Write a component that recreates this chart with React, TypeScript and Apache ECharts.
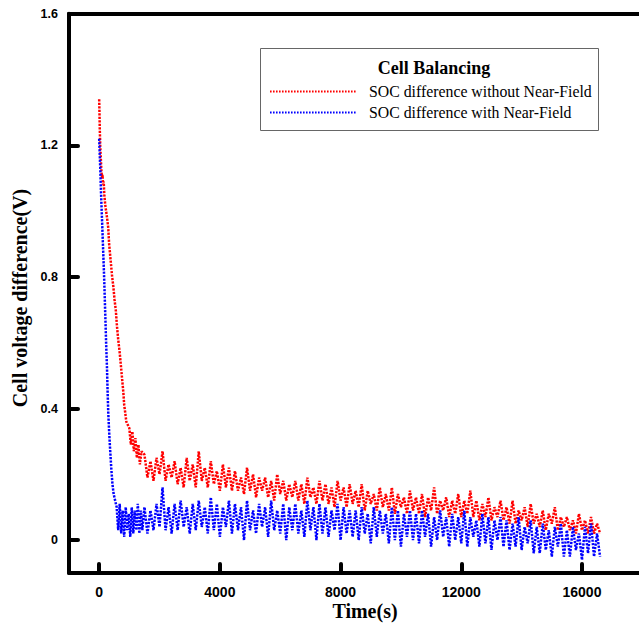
import React, { useEffect, useRef } from "react";
import * as echarts from "echarts";

// ---- data (time in seconds, voltage difference in V) ----
const RED_EARLY_T = [0, 10, 20, 35, 55, 75, 95, 110, 130, 150, 170, 200, 230, 260, 300, 330, 360, 400, 430, 470, 510, 550, 590, 630, 680, 720, 760, 800, 830, 860, 900, 950, 1000, 1050, 1100, 1150, 1200, 1250, 1300, 1350, 1400];
const RED_EARLY_V = [1.34, 1.30, 1.25, 1.20, 1.16, 1.12, 1.10, 1.11, 1.08, 1.09, 1.05, 1.02, 1.00, 0.98, 0.95, 0.90, 0.87, 0.83, 0.80, 0.77, 0.73, 0.70, 0.65, 0.61, 0.57, 0.53, 0.49, 0.45, 0.41, 0.39, 0.36, 0.35, 0.34, 0.29, 0.33, 0.27, 0.31, 0.25, 0.29, 0.23, 0.27];

const BLUE_EARLY_T = [0, 20, 40, 60, 80, 100, 120, 140, 160, 180, 200, 220, 240, 260, 280, 300, 330, 360, 400, 440, 480, 530, 580, 630, 680, 730, 780, 830, 880, 930, 980, 1030, 1080, 1130, 1180, 1230, 1280, 1330, 1380, 1430];
const BLUE_EARLY_V = [1.22, 1.17, 1.12, 1.06, 1.01, 0.96, 0.91, 0.86, 0.81, 0.75, 0.69, 0.63, 0.57, 0.52, 0.45, 0.39, 0.33, 0.28, 0.22, 0.17, 0.14, 0.12, 0.10, 0.03, 0.11, 0.02, 0.09, 0.01, 0.10, 0.03, 0.08, 0.01, 0.10, 0.02, 0.09, 0.03, 0.11, 0.02, 0.09, 0.03];

// noisy part: samples every NOISE_STEP s starting at NOISE_START s
const NOISE_START = 1500;
const NOISE_STEP = 100;
const RED_NOISE = [
  0.26, 0.19, 0.24, 0.18, 0.25, 0.20, 0.27, 0.18, 0.23, 0.19,
  0.24, 0.17, 0.22, 0.16, 0.25, 0.18, 0.23, 0.16, 0.27, 0.18,
  0.22, 0.16, 0.24, 0.17, 0.21, 0.15, 0.23, 0.16, 0.22, 0.15,
  0.21, 0.15, 0.19, 0.14, 0.22, 0.15, 0.20, 0.13, 0.19, 0.15,
  0.19, 0.13, 0.18, 0.12, 0.20, 0.14, 0.18, 0.12, 0.17, 0.13,
  0.18, 0.12, 0.17, 0.11, 0.19, 0.13, 0.16, 0.11, 0.18, 0.12,
  0.17, 0.11, 0.16, 0.10, 0.18, 0.12, 0.16, 0.10, 0.17, 0.11,
  0.15, 0.10, 0.17, 0.09, 0.15, 0.11, 0.14, 0.09, 0.16, 0.10,
  0.14, 0.09, 0.16, 0.08, 0.14, 0.10, 0.13, 0.08, 0.15, 0.09,
  0.13, 0.08, 0.14, 0.07, 0.13, 0.09, 0.16, 0.08, 0.12, 0.09,
  0.13, 0.07, 0.12, 0.08, 0.14, 0.07, 0.12, 0.08, 0.15, 0.07,
  0.12, 0.06, 0.11, 0.07, 0.13, 0.06, 0.10, 0.07, 0.12, 0.06,
  0.10, 0.05, 0.12, 0.05, 0.09, 0.06, 0.10, 0.04, 0.11, 0.05,
  0.08, 0.04, 0.09, 0.03, 0.08, 0.05, 0.10, 0.03, 0.07, 0.04,
  0.07, 0.03, 0.06, 0.02, 0.08, 0.03, 0.06, 0.02, 0.07, 0.02,
  0.05, 0.02,
];
const BLUE_NOISE = [
  0.10, 0.02, 0.09, 0.03, 0.11, 0.04, 0.16, 0.03, 0.10, 0.02,
  0.11, 0.03, 0.12, 0.04, 0.10, 0.02, 0.11, 0.03, 0.12, 0.04,
  0.10, 0.02, 0.13, 0.03, 0.11, 0.01, 0.10, 0.04, 0.12, 0.02,
  0.11, 0.03, 0.10, 0.00, 0.12, 0.03, 0.09, 0.02, 0.11, 0.04,
  0.10, 0.01, 0.12, 0.03, 0.09, 0.02, 0.11, 0.00, 0.10, 0.03,
  0.11, 0.02, 0.09, 0.01, 0.12, 0.03, 0.10, 0.00, 0.11, 0.02,
  0.10, 0.01, 0.09, 0.03, 0.11, 0.00, 0.10, 0.02, 0.09, 0.01,
  0.09, 0.00, 0.10, 0.02, 0.08, -0.01, 0.10, 0.01, 0.09, 0.02,
  0.08, -0.01, 0.10, 0.00, 0.09, -0.02, 0.08, 0.01, 0.09, 0.00,
  0.08, -0.01, 0.09, 0.01, 0.08, -0.02, 0.07, 0.00, 0.09, 0.01,
  0.07, -0.02, 0.08, 0.00, 0.07, -0.01, 0.09, -0.02, 0.07, 0.01,
  0.06, -0.02, 0.08, -0.01, 0.07, -0.03, 0.06, 0.00, 0.07, -0.02,
  0.06, -0.03, 0.05, -0.02, 0.07, -0.03, 0.04, -0.01, 0.06, -0.04,
  0.04, -0.04, 0.05, -0.03, 0.03, -0.05, 0.04, -0.02, 0.05, -0.05,
  0.03, -0.05, 0.04, -0.03, 0.02, -0.06, 0.04, -0.04, 0.05, -0.05,
  0.02, -0.05,
];

const X_TICKS = [0, 4000, 8000, 12000, 16000];
const Y_TICKS = [0, 0.4, 0.8, 1.2, 1.6];

const LEGEND_TITLE = "Cell Balancing";
const RED_NAME = "SOC difference without Near-Field";
const BLUE_NAME = "SOC difference with Near-Field";
const X_TITLE = "Time(s)";
const Y_TITLE = "Cell voltage difference(V)";

function build(earlyT: number[], earlyV: number[], noise: number[]) {
  const out: number[][] = earlyT.map((t, i) => [t, earlyV[i]]);
  noise.forEach((v, i) => out.push([NOISE_START + i * NOISE_STEP, v]));
  return out;
}

export default function App() {
  const ref = useRef<HTMLDivElement>(null);
  useEffect(() => {
    if (!ref.current) return;
    const chart = echarts.init(ref.current, undefined, { renderer: "svg" });
    const axisLineStyle = { color: "#000", width: 4 };
    const serif = "'Liberation Serif', 'Times New Roman', serif";
    const sans = "'Liberation Sans', Arial, sans-serif";
    chart.setOption({
      animation: false,
      backgroundColor: "#fff",
      grid: { left: 69, right: 0, top: 13.7, bottom: 53, outerBoundsMode: "none" },
      xAxis: [
        {
          type: "value",
          min: -1000,
          max: 17890,
          axisLine: { show: true, lineStyle: axisLineStyle, onZero: false },
          axisTick: {
            show: true,
            inside: true,
            length: 9,
            customValues: X_TICKS,
            lineStyle: { color: "#000", width: 4, cap: "round" },
          },
          axisLabel: {
            customValues: X_TICKS,
            margin: 12,
            color: "#000",
            fontWeight: "bold",
            fontSize: 14,
            fontFamily: sans,
            formatter: (v: number) => String(v),
          },
          splitLine: { show: false },
        },
        {
          type: "value",
          position: "top",
          min: -1000,
          max: 17890,
          axisLine: { show: true, lineStyle: axisLineStyle, onZero: false },
          axisTick: { show: false },
          axisLabel: { show: false },
          splitLine: { show: false },
        },
      ],
      yAxis: {
        type: "value",
        min: -0.1,
        max: 1.6,
        axisLine: { show: true, lineStyle: axisLineStyle, onZero: false },
        axisTick: {
          show: true,
          inside: true,
          length: 9,
          customValues: Y_TICKS,
          lineStyle: { color: "#000", width: 4, cap: "round" },
        },
        axisLabel: {
          customValues: Y_TICKS,
          margin: 11,
          color: "#000",
          fontWeight: "bold",
          fontSize: 12.5,
          fontFamily: sans,
          formatter: (v: number) => (v === 0 ? "0" : v.toFixed(1)),
        },
        splitLine: { show: false },
      },
      series: [
        {
          name: RED_NAME,
          type: "line",
          data: build(RED_EARLY_T, RED_EARLY_V, RED_NOISE),
          showSymbol: false,
          symbol: "none",
          lineStyle: { color: "#ff0000", width: 2.5, type: [2.2, 1.3] },
          z: 2,
        },
        {
          name: BLUE_NAME,
          type: "line",
          data: build(BLUE_EARLY_T, BLUE_EARLY_V, BLUE_NOISE),
          showSymbol: false,
          symbol: "none",
          lineStyle: { color: "#0000ff", width: 2.5, type: [2.2, 1.3] },
          z: 3,
        },
      ],
      graphic: [
        {
          type: "rect",
          shape: { x: 260.5, y: 48.5, width: 338, height: 82 },
          style: { fill: "#fff", stroke: "#666", lineWidth: 1 },
          z: 10,
        },
        {
          type: "text",
          x: 434,
          y: 68,
          z: 11,
          style: {
            text: LEGEND_TITLE,
            font: `bold 18px ${serif}`,
            fill: "#000",
            textAlign: "center",
            textVerticalAlign: "middle",
          },
        },
        {
          type: "line",
          z: 11,
          shape: { x1: 270, y1: 91.5, x2: 357, y2: 91.5 },
          style: { stroke: "#ff0000", lineWidth: 2, lineDash: [1.6, 1.4] },
        },
        {
          type: "text",
          x: 369,
          y: 91,
          z: 11,
          style: {
            text: RED_NAME,
            font: `15.8px ${serif}`,
            fill: "#000",
            textAlign: "left",
            textVerticalAlign: "middle",
          },
        },
        {
          type: "line",
          z: 11,
          shape: { x1: 270, y1: 112.5, x2: 357, y2: 112.5 },
          style: { stroke: "#0000ff", lineWidth: 2, lineDash: [1.6, 1.4] },
        },
        {
          type: "text",
          x: 369,
          y: 112,
          z: 11,
          style: {
            text: BLUE_NAME,
            font: `15.8px ${serif}`,
            fill: "#000",
            textAlign: "left",
            textVerticalAlign: "middle",
          },
        },
        {
          type: "text",
          x: 365,
          y: 611,
          z: 11,
          style: {
            text: X_TITLE,
            font: `bold 20px ${serif}`,
            fill: "#000",
            textAlign: "center",
            textVerticalAlign: "middle",
          },
        },
        {
          type: "text",
          x: 20,
          y: 298,
          rotation: Math.PI / 2,
          z: 11,
          style: {
            text: Y_TITLE,
            font: `bold 20px ${serif}`,
            fill: "#000",
            textAlign: "center",
            textVerticalAlign: "middle",
          },
        },
      ],
    });
    return () => chart.dispose();
  }, []);
  return (
    <div
      ref={ref}
      style={{ position: "fixed", left: 0, top: 0, width: 639, height: 626, background: "#fff" }}
    />
  );
}
